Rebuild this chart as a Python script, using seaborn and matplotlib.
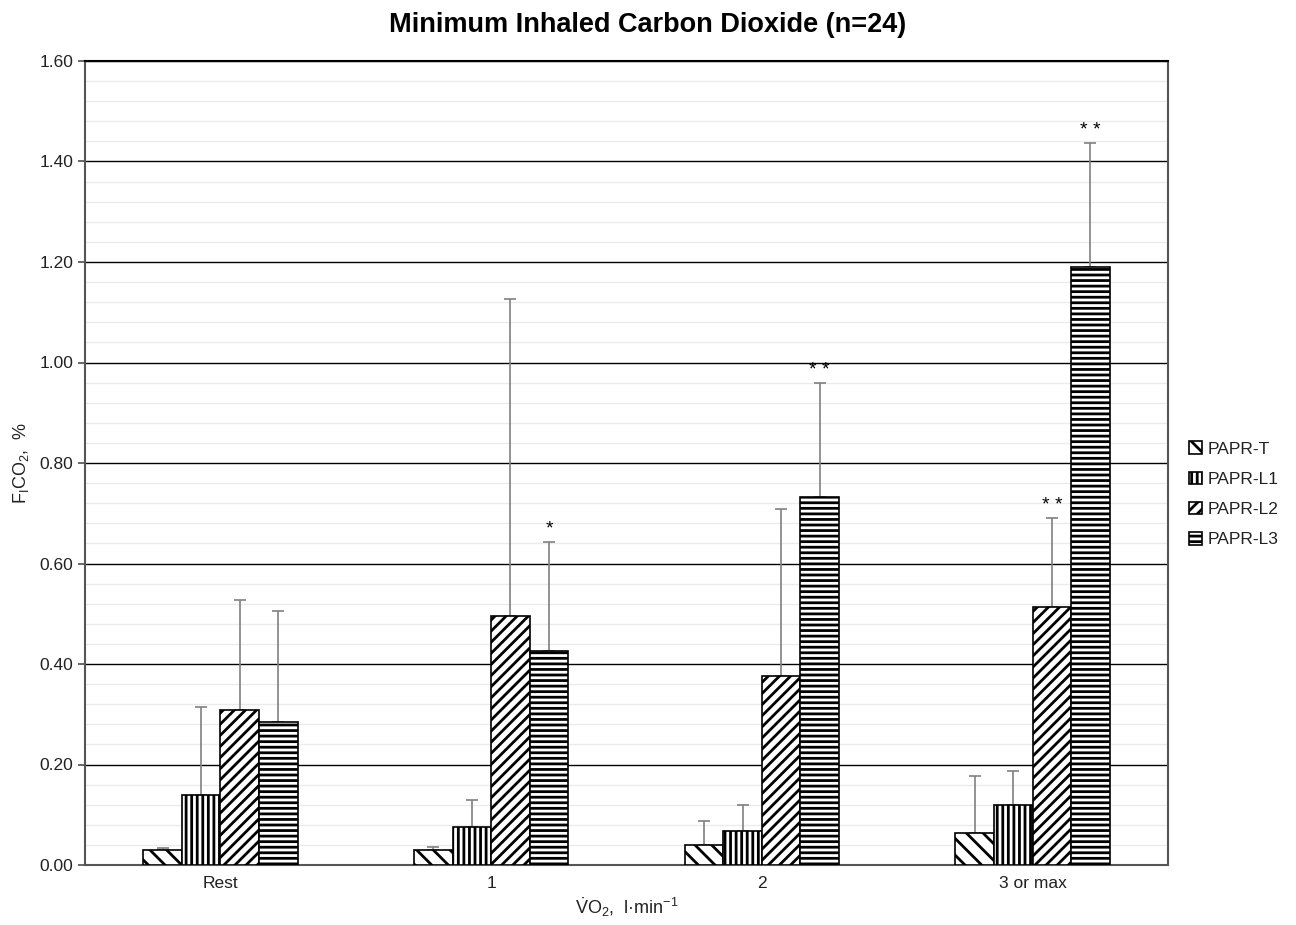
import numpy as np
import pandas as pd
import matplotlib
matplotlib.use("Agg")
import matplotlib.pyplot as plt
import seaborn as sns
from matplotlib.ticker import MultipleLocator
from matplotlib.container import BarContainer

categories = ["Rest", "1", "2", "3 or max"]
series = ["PAPR-T", "PAPR-L1", "PAPR-L2", "PAPR-L3"]
papr_t = [0.030, 0.030, 0.040, 0.064]
papr_l1 = [0.139, 0.076, 0.068, 0.119]
papr_l2 = [0.308, 0.496, 0.376, 0.513]
papr_l3 = [0.285, 0.426, 0.732, 1.190]
sd_t = [0.004, 0.005, 0.048, 0.113]
sd_l1 = [0.175, 0.054, 0.051, 0.068]
sd_l2 = [0.219, 0.630, 0.332, 0.177]
sd_l3 = [0.220, 0.217, 0.227, 0.247]
marks_l2 = ["", "", "", "* *"]
marks_l3 = ["", "*", "* *", "* *"]
hatches = ["\\\\", "|||", "///", "---"]

sns.set_theme(style="white")
plt.rcParams["font.family"] = ["Liberation Sans", "DejaVu Sans"]
plt.rcParams["mathtext.fontset"] = "custom"
plt.rcParams["mathtext.rm"] = "Liberation Sans"
plt.rcParams["mathtext.it"] = "Liberation Sans"
plt.rcParams["mathtext.bf"] = "Liberation Sans:bold"
plt.rcParams["hatch.linewidth"] = 2.0
plt.rcParams["hatch.color"] = "black"
plt.rcParams["text.color"] = "black"
plt.rcParams["axes.labelcolor"] = "black"
plt.rcParams["xtick.color"] = "black"
plt.rcParams["ytick.color"] = "black"

values = [papr_t, papr_l1, papr_l2, papr_l3]
sds = [sd_t, sd_l1, sd_l2, sd_l3]
marks = [[""] * 4, [""] * 4, marks_l2, marks_l3]
df = pd.DataFrame({
    "cat": np.repeat([categories], 4, axis=0).ravel(),
    "series": np.repeat(series, 4),
    "val": np.concatenate(values),
})

fig = plt.figure(figsize=(12.96, 9.25), dpi=100)
ax = fig.add_axes([85 / 1296, 1 - 865 / 925, (1168 - 85) / 1296, (865 - 61) / 925])

sns.barplot(data=df, x="cat", y="val", hue="series", order=categories,
            hue_order=series, width=0.57, palette=["white"] * 4,
            edgecolor="black", linewidth=1.2, errorbar=None, ax=ax, legend=True,
            zorder=3)

bar_conts = [c for c in ax.containers if isinstance(c, BarContainer)]
for i, cont in enumerate(bar_conts):
    for j, bar in enumerate(cont.patches):
        bar.set_hatch(hatches[i])
        bar.set_edgecolor("black")
        x = bar.get_x() + bar.get_width() / 2
        h = bar.get_height()
        ax.errorbar([x], [h], yerr=[[0], [sds[i][j]]], fmt="none",
                    ecolor="#808080", elinewidth=1.2, capsize=4, capthick=1.2,
                    zorder=2)
        if marks[i][j]:
            ax.text(x, h + sds[i][j] + 0.008, marks[i][j], ha="center",
                    va="bottom", fontsize=14, color="black")

ax.set_ylim(0, 1.6)
ax.set_xlim(-0.5, 3.5)
ax.yaxis.set_minor_locator(MultipleLocator(0.04))
ax.set_yticks(np.arange(0, 1.61, 0.2))
ax.set_yticklabels([f"{v:.2f}" for v in np.arange(0, 1.61, 0.2)])
ax.grid(axis="y", which="major", color="black", linewidth=1.0, zorder=0)
ax.grid(axis="y", which="minor", color="#ebebeb", linewidth=1.0, zorder=0)
ax.set_axisbelow(True)
ax.tick_params(axis="y", which="major", direction="out", length=5, color="#555555",
               labelsize=12.5, left=True, labelcolor="#222222")
ax.tick_params(axis="y", which="minor", left=False)
ax.tick_params(axis="x", length=0, labelsize=12.5, pad=8, labelcolor="#222222")
for s in ["left", "right", "top", "bottom"]:
    ax.spines[s].set_visible(True)
    ax.spines[s].set_color("#555555")
    ax.spines[s].set_linewidth(1.5)
ax.spines["top"].set_color("black")

ax.set_xlabel(r"$\dot{V}$O$_2$,  l·min$^{-1}$", fontsize=13, labelpad=3,
              color="#222222")
ax.set_ylabel(r"F$_\mathrm{I}$CO$_2$,  %", fontsize=13, labelpad=6, color="#222222")
fig.suptitle("Minimum Inhaled Carbon Dioxide (n=24)", fontsize=19.5, fontweight="bold",
             y=1 - 25 / 925, va="center", color="black")

leg = ax.legend(loc="center left", bbox_to_anchor=(1.0, 0.461), frameon=False,
                fontsize=12.5, handlelength=0.75, handleheight=0.75, handletextpad=0.35,
                labelspacing=0.85, borderaxespad=0.8)
for i, p in enumerate(leg.get_patches()):
    p.set_hatch(hatches[i])
    p.set_edgecolor("black")
    p.set_facecolor("white")
for t in leg.get_texts():
    t.set_color("#222222")

fig.savefig("out.png", dpi=100, facecolor="white")
